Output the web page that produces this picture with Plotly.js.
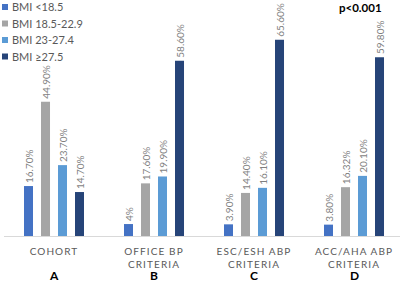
<!DOCTYPE html>
<html>
<head>
<meta charset="utf-8">
<script src="https://cdn.plot.ly/plotly-3.0.1.min.js"></script>
<style>
html,body{margin:0;padding:0;background:#fff;}
#chart{width:400px;height:281px;}
.xtick text{letter-spacing:1.1px;}
</style>
</head>
<body>
<div id="chart"></div>
<script>
// ---- data ----
const categories = ["COHORT", "OFFICE BP<br>CRITERIA", "ESC/ESH ABP<br>CRITERIA", "ACC/AHA ABP<br>CRITERIA"];
const panelLetters = ["A", "B", "C", "D"];
const seriesNames = ["BMI <18.5", "BMI 18.5-22.9", "BMI 23-27.4", "BMI \u226527.5"];
const bmiUnder185 = [16.7, 4, 3.9, 3.8];
const bmi185to229 = [44.9, 17.6, 14.4, 16.32];
const bmi23to274 = [23.7, 19.9, 16.1, 20.1];
const bmiOver275 = [14.7, 58.6, 65.6, 59.8];
const pValueText = "p<0.001";

const seriesValues = [bmiUnder185, bmi185to229, bmi23to274, bmiOver275];
const colors = ["#4472C4", "#A5A5A5", "#5B9BD5", "#264478"];
const fontFam = "Lato, 'Open Sans', sans-serif";

const fmt = v => (Number.isInteger(v) ? String(v) : v.toFixed(2)) + "%";

const xIdx = categories.map((c, i) => i);
const traces = seriesValues.map((vals, s) => ({
  type: "bar",
  name: seriesNames[s],
  x: xIdx,
  y: vals,
  text: vals.map(fmt),
  textposition: "outside",
  textangle: -90,
  constraintext: "none",
  cliponaxis: false,
  textfont: {family: fontFam, size: 10, color: "#7f7f7f"},
  marker: {color: colors[s], line: {width: 0}},
  hoverinfo: "skip"
}));

const annotations = panelLetters.map((l, i) => ({
  text: "<b>" + l + "</b>",
  x: i, xref: "x",
  y: (236 - 275) / 236, yref: "paper",
  xanchor: "center", yanchor: "middle",
  borderpad: 0,
  showarrow: false,
  font: {family: fontFam, size: 12, color: "#000"}
}));
annotations.push({
  text: "<b>" + pValueText + "</b>",
  x: 0.9015, xref: "paper",
  y: (236 - 7.5) / 236, yref: "paper",
  xanchor: "center", yanchor: "middle",
  borderpad: 0,
  showarrow: false,
  font: {family: fontFam, size: 11.5, color: "#000"}
});

const layout = {
  width: 400, height: 281,
  margin: {l: 4, r: 0, t: 0, b: 45, pad: 0},
  paper_bgcolor: "#fff", plot_bgcolor: "#fff",
  barmode: "group",
  bargap: 0.32,
  bargroupgap: 0.47,
  showlegend: true,
  legend: {
    x: -0.01, y: 1.0, xanchor: "left", yanchor: "top",
    bgcolor: "rgba(0,0,0,0)",
    font: {family: fontFam, size: 11, color: "#595959"},
    itemwidth: 30, tracegroupgap: 0
  },
  xaxis: {
    type: "linear",
    range: [-0.5, 3.46],
    tickmode: "array",
    tickvals: xIdx,
    ticktext: categories,
    showline: true, linecolor: "#d9d9d9", linewidth: 1,
    showgrid: false, zeroline: false, ticks: "",
    ticklabelstandoff: 6,
    tickfont: {family: fontFam, size: 10, color: "#595959"},
    automargin: false, fixedrange: true
  },
  yaxis: {
    range: [0, 78.9],
    visible: false, showgrid: false, zeroline: false,
    automargin: false, fixedrange: true
  },
  annotations: annotations,
  font: {family: fontFam}
};

Plotly.newPlot("chart", traces, layout, {displayModeBar: false, staticPlot: true}).then(() => {
  // tighten legend to match reference look
  const items = document.querySelectorAll(".legend .traces");
  items.forEach((g, i) => {
    g.setAttribute("transform", "translate(0," + (7 + i * 16.5) + ")");
    const t = g.querySelector(".legendtext");
    if (t) t.setAttribute("x", 12);
    g.querySelectorAll(".legendpoints path").forEach(p => {
      p.setAttribute("d", "M3,3H-3V-3H3Z");
      p.setAttribute("transform", "translate(5,0)");
    });
  });
  const leg = document.querySelector(".legend");
  if (leg) leg.setAttribute("transform", "translate(0,0)");
  const bg = document.querySelector(".legend .bg");
  if (bg) bg.setAttribute("height", 0);
});
</script>
</body>
</html>
